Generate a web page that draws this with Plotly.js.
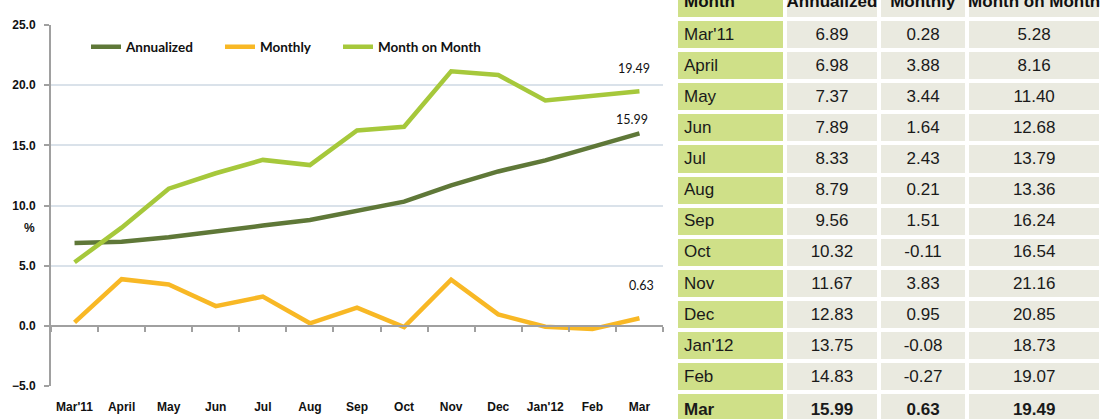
<!DOCTYPE html>
<html>
<head>
<meta charset="utf-8">
<script src="https://cdn.plot.ly/plotly-3.0.1.min.js"></script>
<style>
html,body{margin:0;padding:0;background:#fff;overflow:hidden;width:1101px;height:419px;}
#chart{position:absolute;left:0;top:-16px;width:1101px;height:437px;}
</style>
</head>
<body>
<div id="chart"></div>
<script>
// ---- data ----
const months = ["Mar'11","April","May","Jun","Jul","Aug","Sep","Oct","Nov","Dec","Jan'12","Feb","Mar"];
const annualized = [6.89,6.98,7.37,7.89,8.33,8.79,9.56,10.32,11.67,12.83,13.75,14.83,15.99];
const monthly = [0.28,3.88,3.44,1.64,2.43,0.21,1.51,-0.11,3.83,0.95,-0.08,-0.27,0.63];
const monthOnMonth = [5.28,8.16,11.40,12.68,13.79,13.36,16.24,16.54,21.16,20.85,18.73,19.07,19.49];
const seriesNames = ["Annualized","Monthly","Month on Month"];
const tableHeader = ["Month","Annualized","Monthly","Month on Month"];
const yTicks = [-5,0,5,10,15,20,25];

// ---- geometry ----
const W = 1101, H = 437;
const plotL = 51, plotR = 663, plotT = 41, plotB = 402;
const xd = [plotL/W, plotR/W];
const yd = [1-plotB/H, 1-plotT/H];
const yMin = -5, yMax = 25;
const zeroPos = yd[0] + (0-yMin)/(yMax-yMin)*(yd[1]-yd[0]);

const cOlive = '#5f7838', cYellow = '#f8b825', cLime = '#a6c83b';
const tickFont = {family:'Liberation Sans, Arial, sans-serif', size:12, color:'#111', weight:700};
const legFont = {family:'Lato, Open Sans, sans-serif', size:13.5, color:'#111', weight:700};
const tblFamily = 'Liberation Sans Narrow, Arial Narrow, Liberation Sans, Arial, sans-serif';

const last = months.length-1;
const fmt = v => v.toFixed(2);
const boldLast = (arr) => arr.map((v,i)=> i===last ? '<b>'+v+'</b>' : v);
const nb = s => s.replace(/ /g, '\u00a0');

const traces = [
  {type:'scatter', mode:'lines', x:months, y:annualized, name:seriesNames[0],
   line:{color:cOlive, width:4.5}, xaxis:'x', yaxis:'y', legend:'legend'},
  {type:'scatter', mode:'lines', x:months, y:monthly, name:seriesNames[1],
   line:{color:cYellow, width:4.5}, xaxis:'x', yaxis:'y', legend:'legend2'},
  {type:'scatter', mode:'lines', x:months, y:monthOnMonth, name:seriesNames[2],
   line:{color:cLime, width:4.5}, xaxis:'x', yaxis:'y', legend:'legend3'},
  // invisible helper on the zero-line axis (tick marks at category boundaries)
  {type:'scatter', mode:'lines', x:months, y:monthly, xaxis:'x2', yaxis:'y',
   line:{width:0}, opacity:0, showlegend:false, hoverinfo:'skip'},
  {type:'table', domain:{x:[676/W, 1], y:[0,1]},
   columnwidth:[109,93.5,88.5,133.5],
   header:{values: tableHeader.map(t=>'<b>'+nb(t)+'</b>'), height:29,
     align:['left','center','center','center'],
     fill:{color:['#cfe088','#eaeae0','#eaeae0','#eaeae0']},
     line:{color:'#ffffff', width:4},
     font:{family:tblFamily, size:17, color:'#111'}},
   cells:{values:[boldLast(months), boldLast(annualized.map(fmt)), boldLast(monthly.map(fmt)), boldLast(monthOnMonth.map(fmt))],
     height:31.1,
     align:['left','center','center','center'],
     fill:{color:['#cfe088','#eaeae0','#eaeae0','#eaeae0']},
     line:{color:'#ffffff', width:4},
     font:{family:tblFamily, size:17, color:'#1a1a1a'}}
  }
];

const legBase = {orientation:'h', yanchor:'middle', xanchor:'left', y:1-63/H,
  bgcolor:'rgba(0,0,0,0)', font:legFont, borderwidth:0};

const layout = {
  width:W, height:H, margin:{l:0,r:0,t:0,b:0},
  paper_bgcolor:'#fff', plot_bgcolor:'#fff',
  showlegend:true,
  legend: Object.assign({}, legBase, {x:(91-5)/W}),
  legend2: Object.assign({}, legBase, {x:(225-5)/W}),
  legend3: Object.assign({}, legBase, {x:(343-5)/W}),
  xaxis:{domain:xd, anchor:'y', type:'category', categoryorder:'array', categoryarray:months,
    range:[-0.5, months.length-0.5], showgrid:false, showline:false, zeroline:false,
    ticks:'', tickfont:tickFont, ticklabelstandoff:12},
  xaxis2:{domain:xd, overlaying:'x', anchor:'free', position:zeroPos, type:'category',
    categoryorder:'array', categoryarray:months, range:[-0.5, months.length-0.5],
    showgrid:false, zeroline:false, showline:true, linecolor:'#a0a0a0', linewidth:2,
    ticks:'outside', tickson:'boundaries', ticklen:5, tickwidth:2, tickcolor:'#a0a0a0',
    showticklabels:false},
  yaxis:{domain:yd, anchor:'x', range:[yMin,yMax], tickvals:yTicks, tickformat:'.1f',
    showgrid:true, gridcolor:'#dae2ea', gridwidth:2,
    zeroline:false, showline:true, linecolor:'#a0a0a0', linewidth:2,
    ticks:'outside', ticklen:5, tickwidth:2, tickcolor:'#a0a0a0',
    tickfont:tickFont, ticklabelstandoff:6},
  annotations:[
    {xref:'paper', yref:'paper', x:22/W, y:1-244/H, text:'<b>%</b>', showarrow:false,
     font:{family:'Liberation Sans, Arial, sans-serif', size:12, color:'#111'}},
    {xref:'x', yref:'y', x:last, y:monthOnMonth[last], text:fmt(monthOnMonth[last]), showarrow:false,
     xshift:-5, yshift:23, font:{family:'Lato, sans-serif', size:12.5, color:'#111'}},
    {xref:'x', yref:'y', x:last, y:annualized[last], text:fmt(annualized[last]), showarrow:false,
     xshift:-7, yshift:14, font:{family:'Lato, sans-serif', size:12.5, color:'#111'}},
    {xref:'x', yref:'y', x:last, y:monthly[last], text:fmt(monthly[last]), showarrow:false,
     xshift:2, yshift:33, font:{family:'Lato, sans-serif', size:12.5, color:'#111'}}
  ]
};

Plotly.newPlot('chart', traces, layout, {staticPlot:true, displayModeBar:false});
</script>
</body>
</html>
